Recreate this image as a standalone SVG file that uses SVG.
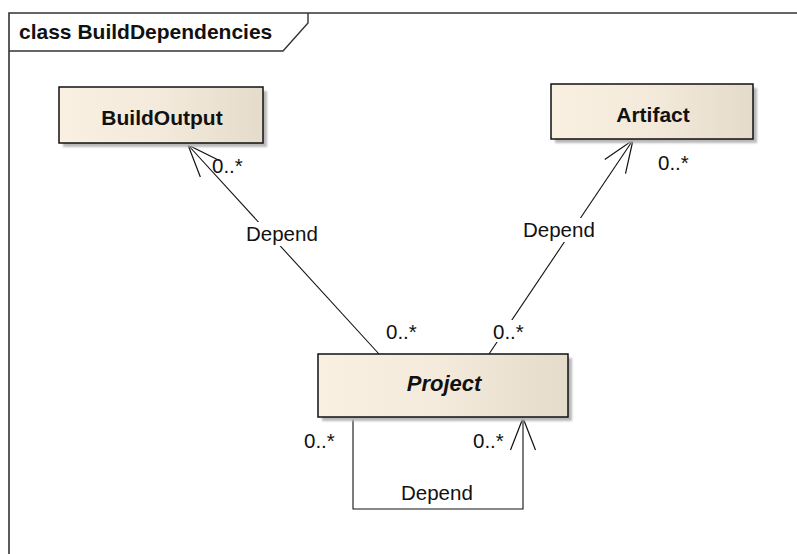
<svg xmlns="http://www.w3.org/2000/svg" width="797" height="554" viewBox="0 0 797 554">
<style>
  text { font-family: "Liberation Sans", Arial, sans-serif; fill: #111; }
  .lbl { font-size: 20.5px; }
  .name { font-size: 21px; font-weight: bold; text-anchor: middle; }
  .box { fill: url(#cls); stroke: #111; stroke-width: 1.5; }
  .shadow { fill: #b8b8b8; }
  .conn { fill: none; stroke: #111; stroke-width: 1.1; }
  .bg { fill: #fff; }
</style>
<defs>
  <linearGradient id="cls" x1="0" y1="0" x2="1" y2="0">
    <stop offset="0" stop-color="#faf0e2"/>
    <stop offset="0.5" stop-color="#f4eadb"/>
    <stop offset="1" stop-color="#e5dbcb"/>
  </linearGradient>
  <filter id="blur" x="-10%" y="-10%" width="120%" height="130%">
    <feGaussianBlur stdDeviation="1.2"/>
  </filter>
  <marker id="open" markerUnits="userSpaceOnUse" markerWidth="40" markerHeight="30" viewBox="-36 -15 40 30" refX="0" refY="0" orient="auto">
    <path d="M -32,-12.5 L 0,0 L -32,12.5" fill="none" stroke="#111" stroke-width="1.2"/>
  </marker>
</defs>
<rect width="797" height="554" fill="#fff"/>

<g id="frame">
  <path d="M 9,560 V 13 H 797" fill="none" stroke="#333" stroke-width="1.6"/>
  <path d="M 9,51 H 283 L 308,23 V 13" fill="none" stroke="#333" stroke-width="1.4"/>
  <text x="19" y="39" style="font-size:21px;font-weight:bold">class BuildDependencies</text>
</g>

<g id="connectors">
  <line class="conn" x1="379" y1="354" x2="188" y2="145" marker-end="url(#open)"/>
  <line class="conn" x1="489" y1="354" x2="633" y2="140" marker-end="url(#open)"/>
  <path class="conn" d="M 353,417 V 509 H 523 V 418" stroke-width="1.5" marker-end="url(#open)"/>
  <rect class="bg" x="243" y="222" width="81" height="24"/>
  <rect class="bg" x="520" y="218" width="82" height="24"/>
  <rect class="bg" x="491" y="320" width="36" height="22"/>
  <text class="lbl" x="246" y="241">Depend</text>
  <text class="lbl" x="523" y="237">Depend</text>
  <text class="lbl" x="401" y="500">Depend</text>
  <text class="lbl" x="212" y="173">0..*</text>
  <text class="lbl" x="658" y="170">0..*</text>
  <text class="lbl" x="386" y="339">0..*</text>
  <text class="lbl" x="493" y="339">0..*</text>
  <text class="lbl" x="304" y="448">0..*</text>
  <text class="lbl" x="473" y="448">0..*</text>
</g>

<g id="BuildOutput">
  <rect class="shadow" x="63" y="91" width="204" height="56" filter="url(#blur)"/>
  <rect class="box" x="59" y="87" width="204" height="56"/>
  <text class="name" x="162" y="125">BuildOutput</text>
</g>

<g id="Artifact">
  <rect class="shadow" x="555" y="88" width="202" height="55" filter="url(#blur)"/>
  <rect class="box" x="551" y="84" width="202" height="55"/>
  <text class="name" x="653" y="122">Artifact</text>
</g>

<g id="Project">
  <rect class="shadow" x="322" y="358" width="250" height="63" filter="url(#blur)"/>
  <rect class="box" x="318" y="354" width="250" height="63"/>
  <text class="name" x="444" y="391" font-style="italic" style="font-size:22px">Project</text>
</g>
</svg>
